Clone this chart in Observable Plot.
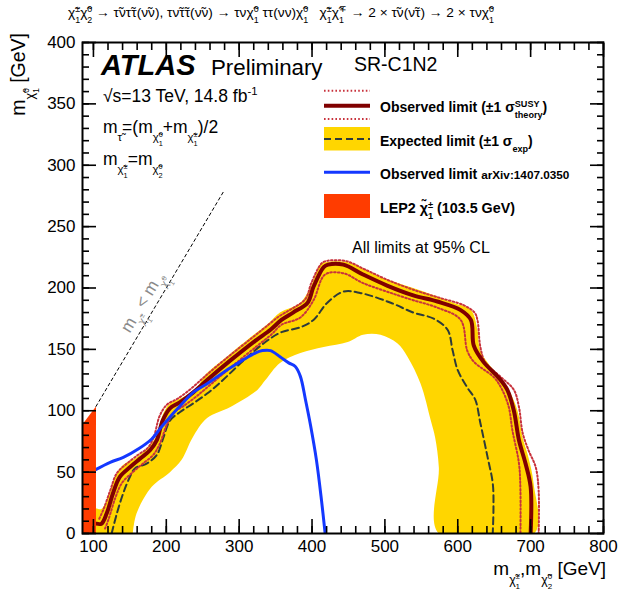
<!DOCTYPE html>
<html>
<head>
<meta charset="utf-8">
<script src="https://cdn.jsdelivr.net/npm/d3@7"></script>
<script src="https://cdn.jsdelivr.net/npm/@observablehq/plot@0.6"></script>
<style>
  html, body { margin: 0; padding: 0; background: #fff; }
  svg { font-family: "Liberation Sans", Arial, Helvetica, sans-serif; }
  svg text { white-space: pre; }
</style>
</head>
<body>
<div id="chart"></div>
<script>
// Exclusion contours, points are [m(chargino, neutralino2), m(neutralino1)] in GeV
const observed = [
  [104,8],[111,8],[118,16],[127,33],[136,46],[150,54],[164,61],[178,68],[187,76],[195,92],
  [205,102],[219,107],[237,115],[256,125],[288,141],[322,157],[343,166],[358,174],[374,180],
  [394,188],[402,201],[416,217],[422,219],[443,219],[470,211],[503,202],[539,194],[572,189],
  [604,182],[618,174],[622,153],[635,140],[656,127],[668,117],[677,100],[684,76],[693,57],
  [700,38],[700,0]
];
const observedUp = [
  [108,12],[114,20],[123,35],[132,49],[146,57],[161,64],[175,70],[183,79],[191,96],[201,105],
  [216,110],[234,118],[253,128],[285,144],[319,160],[340,170],[355,177],[372,183],[391,191],
  [399,204],[413,220],[420,222],[446,222],[473,215],[506,206],[542,198],[575,192],[608,186],
  [623,180],[627,174],[631,152],[638,139],[660,127],[677,117],[684,103],[689,82],[697,68],
  [707,54],[711,35],[711,0]
];
const observedDown = [
  [116,4],[121,12],[130,29],[139,41],[154,50],[168,57],[182,64],[191,73],[201,89],[211,99],
  [224,104],[242,112],[262,122],[292,137],[325,153],[344,162],[358,170],[384,176],[402,190],
  [418,211],[443,212],[470,204],[503,197],[539,190],[572,184],[604,174],[613,149],[622,140],
  [650,127],[661,117],[670,103],[675,84],[684,57],[686,35],[686,0]
];
const expected = [
  [125,0],[132,16],[141,33],[150,46],[157,53],[173,57],[187,64],[196,78],[205,92],[219,99],
  [237,106],[256,114],[274,123],[308,142],[336,156],[358,164],[384,168],[402,174],[421,188],
  [443,197],[466,196],[508,188],[539,180],[567,175],[586,166],[593,149],[600,133],[613,119],
  [624,109],[631,90],[641,62],[648,41],[649,21],[648,0]
];
// ±1σ band: outer edge (bottom-left to bottom-right) followed by the inner edge back
const bandOuter = [
  [102,0],[102,20],[111,20],[123,35],[132,49],[141,56],[159,62],[173,69],[185,78],[196,98],
  [205,106],[223,111],[242,119],[253,129],[283,144],[316,160],[340,171],[356,180],[384,188],
  [398,201],[411,219],[418,221],[449,221],[494,209],[549,198],[594,188],[618,182],[627,166],
  [631,149],[649,133],[668,119],[682,100],[689,78],[697,62],[704,41],[705,0]
];
const bandInner = [
  [574,0],[574,54],[569,78],[563,92],[549,122],[531,144],[517,155],[494,162],[470,162],
  [449,156],[416,152],[384,147],[356,139],[336,125],[325,117],[288,103],[256,94],[236,78],
  [221,60],[205,50],[180,38],[159,16],[154,0]
];
const previous = [
  [103,52],[123,58],[141,62],[162,69],[180,77],[191,85],[205,95],[219,104],[237,115],
  [256,122],[288,135],[322,147],[332,149],[343,149],[356,144],[368,139],[377,136],[384,128],
  [391,109],[398,88],[406,60],[413,27],[418,0]
];
const lep = [[85,0],[103.5,0],[103.5,103.5],[85,89]];
const diagonal = [[103.5,103.5],[280,280]];

const xMajor = [100,200,300,400,500,600,700,800];
const yMajor = [0,50,100,150,200,250,300,350,400];
const xMinor = d3.range(100, 801, 20);
const yMinor = d3.range(0, 401, 10);

const band = bandOuter.concat(bandInner);
const X = d => d[0], Y = d => d[1];
const noText = () => "";

const plot = Plot.plot({
  width: 629,
  height: 592,
  marginLeft: 82,
  marginRight: 26,
  marginTop: 42,
  marginBottom: 59,
  x: {domain: [85, 800]},
  y: {domain: [0, 400]},
  style: {background: "#fff", color: "#000", fontSize: "17px"},
  marks: [
    Plot.line(band, {x: X, y: Y, fill: "#ffd600", stroke: "none", curve: "catmull-rom", clip: true}),
    Plot.line(expected, {x: X, y: Y, stroke: "#2d3b3b", strokeWidth: 2, strokeDasharray: "7,4", curve: "catmull-rom", clip: true}),
    Plot.line(observedUp, {x: X, y: Y, stroke: "#c8323c", strokeWidth: 2, strokeDasharray: "1.6,2.2", curve: "catmull-rom", clip: true}),
    Plot.line(observedDown, {x: X, y: Y, stroke: "#c8323c", strokeWidth: 2, strokeDasharray: "1.6,2.2", curve: "catmull-rom", clip: true}),
    Plot.line(observed, {x: X, y: Y, stroke: "#800000", strokeWidth: 4, curve: "catmull-rom", clip: true}),
    Plot.line(previous, {x: X, y: Y, stroke: "#1438ff", strokeWidth: 3, curve: "catmull-rom", clip: true}),
    Plot.line(lep, {x: X, y: Y, fill: "#ff3c00", stroke: "none", clip: true}),
    Plot.line(diagonal, {x: X, y: Y, stroke: "#000", strokeWidth: 1, strokeDasharray: "3,3"}),
    Plot.frame({stroke: "#000", strokeWidth: 2}),
    Plot.axisX(xMajor, {anchor: "bottom", tickSize: 0, tickPadding: 6, fontSize: 17, label: null}),
    Plot.axisY(yMajor, {anchor: "left", tickSize: 0, tickPadding: 7, fontSize: 17, label: null}),
    Plot.axisX(xMajor, {anchor: "bottom", tickSize: -14, tickFormat: noText, strokeWidth: 1.6, label: null}),
    Plot.axisX(xMinor, {anchor: "bottom", tickSize: -7, tickFormat: noText, strokeWidth: 1.6, label: null}),
    Plot.axisX(xMajor, {anchor: "top", tickSize: -14, tickFormat: noText, strokeWidth: 1.6, label: null}),
    Plot.axisX(xMinor, {anchor: "top", tickSize: -7, tickFormat: noText, strokeWidth: 1.6, label: null}),
    Plot.axisY(yMajor, {anchor: "left", tickSize: -14, tickFormat: noText, strokeWidth: 1.6, label: null}),
    Plot.axisY(yMinor, {anchor: "left", tickSize: -7, tickFormat: noText, strokeWidth: 1.6, label: null}),
    Plot.axisY(yMajor, {anchor: "right", tickSize: -14, tickFormat: noText, strokeWidth: 1.6, label: null}),
    Plot.axisY(yMinor, {anchor: "right", tickSize: -7, tickFormat: noText, strokeWidth: 1.6, label: null})
  ]
});
document.getElementById("chart").appendChild(plot);

// ---- rich text (sub/superscripts stacked the ROOT way) ----
const root = d3.select(plot);
const ann = root.append("g").attr("fill", "#000").attr("text-anchor", "start");

function run(g, parts, x, y, fs) {
  let cx = x;
  for (const p of parts) {
    if (typeof p === "string") {
      const t = g.append("text").attr("x", cx).attr("y", y).attr("font-size", fs).text(p);
      cx += t.node().getComputedTextLength();
    } else {
      const bs = fs * (p.k || 1);
      if (p.t) cx += run(g, p.t, cx, y, bs);
      const s = bs * 0.65;
      const wp = p.sup ? run(g, p.sup, cx, y - bs * 0.38, s) : 0;
      const ws = p.sub ? run(g, p.sub, cx, y + bs * 0.45, s) : 0;
      cx += Math.max(wp, ws);
    }
  }
  return cx - x;
}
function put(parts, x, y, fs, opts = {}) {
  const g = ann.append("g");
  if (opts.weight) g.attr("font-weight", opts.weight);
  if (opts.italic) g.attr("font-style", "italic");
  if (opts.fill) g.attr("fill", opts.fill);
  const w = run(g, parts, 0, 0, fs);
  const dx = opts.anchor === "end" ? -w : opts.anchor === "middle" ? -w / 2 : 0;
  g.attr("transform", `translate(${x},${y})` + (opts.rotate ? ` rotate(${opts.rotate})` : "") + ` translate(${dx},0)`);
  return w;
}
const chi = (sub, sup) => ({t: ["χ̃"], sub: [sub], sup: [sup]});
const m = inner => ({t: ["m"], sub: [inner]});

// process line
put([chi("1", "±"), chi("2", "0"), " → τ̃ντ̃τ(ν̃ν), τν̃τ̃τ(ν̃ν) → τν", chi("1", "0"), " ττ(νν)", chi("1", "0"),
     "   ", chi("1", "±"), chi("1", "∓"), " → 2 × τ̃ν(ν̃τ) → 2 × τν", chi("1", "0")], 68, 17, 13.7);

// labels inside the frame
put(["ATLAS"], 101, 75, 29, {weight: "bold", italic: true});
put(["Preliminary"], 211, 75, 22.3);
put(["√s=13 TeV, 14.8 fb", {sup: ["-1"]}], 103, 102, 17.5);
put([m("τ̃"), "=(", m(chi("1", "0")), "+", m(chi("1", "±")), ")/2"], 103, 133, 17.5);
put([m(chi("1", "±")), "=", m(chi("2", "0"))], 103, 165, 17.5);
put([m(chi("1", "±")), " < ", m(chi("1", "0"))], 147, 305, 17, {anchor: "middle", rotate: -59, fill: "#8a8a8a"});

// legend
put(["SR-C1N2"], 354, 71, 19.5);
const lg = ann.append("g");
lg.append("line").attr("x1", 324).attr("x2", 370).attr("y1", 90.7).attr("y2", 90.7)
  .attr("stroke", "#c8323c").attr("stroke-width", 2).attr("stroke-dasharray", "1.6,2.2");
lg.append("line").attr("x1", 324).attr("x2", 370).attr("y1", 105.7).attr("y2", 105.7)
  .attr("stroke", "#800000").attr("stroke-width", 4);
lg.append("line").attr("x1", 324).attr("x2", 370).attr("y1", 119).attr("y2", 119)
  .attr("stroke", "#c8323c").attr("stroke-width", 2).attr("stroke-dasharray", "1.6,2.2");
lg.append("rect").attr("x", 324).attr("y", 127).attr("width", 46).attr("height", 23.5).attr("fill", "#ffd600");
lg.append("line").attr("x1", 324).attr("x2", 370).attr("y1", 139).attr("y2", 139)
  .attr("stroke", "#2d3b3b").attr("stroke-width", 2).attr("stroke-dasharray", "7,4");
lg.append("line").attr("x1", 324).attr("x2", 370).attr("y1", 172.3).attr("y2", 172.3)
  .attr("stroke", "#1438ff").attr("stroke-width", 3);
lg.append("rect").attr("x", 324).attr("y", 194).attr("width", 46).attr("height", 24).attr("fill", "#ff3c00");

put(["Observed limit (±1 ", {t: ["σ"], sup: ["SUSY"], sub: ["theory"]}, ")"], 380, 112, 14, {weight: "bold"});
put(["Expected limit (±1 ", {t: ["σ"], sub: ["exp"]}, ")"], 380, 146, 14, {weight: "bold"});
put(["Observed limit ", {t: ["arXiv:1407.0350"], k: 0.84}], 380, 179, 14, {weight: "bold"});
put(["LEP2 ", chi("1", "±"), " (103.5 GeV)"], 380, 213, 14.3, {weight: "bold"});
put(["All limits at 95% CL"], 352, 253, 16);

// axis titles
put([m(chi("1", "0")), " [GeV]"], 25, 33, 19.5, {anchor: "end", rotate: -90});
put([m(chi("1", "±")), ",", m(chi("2", "0")), " [GeV]"], 606, 575, 19, {anchor: "end"});
</script>
</body>
</html>
